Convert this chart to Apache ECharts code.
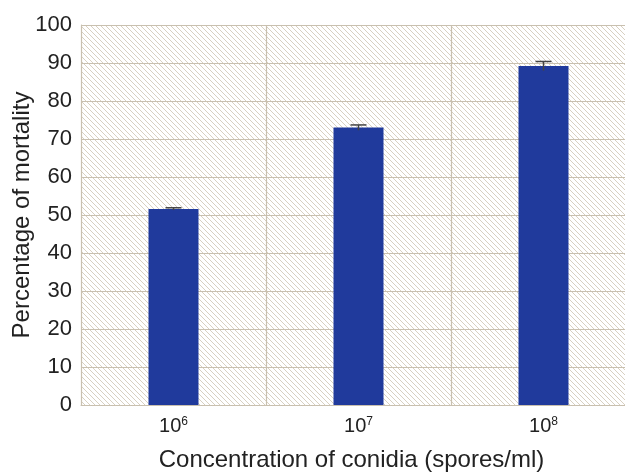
<!DOCTYPE html>
<html><head><meta charset="utf-8">
<script src="https://cdn.jsdelivr.net/npm/echarts@6/dist/echarts.min.js"></script>
<style>html,body{margin:0;padding:0;background:#fff}#c{width:625px;height:473px}</style>
</head><body><div id="c"></div>
<script>
var categories = ['6', '7', '8'];
var mortality = [51.6, 73.0, 89.2];
var errors = [0.3, 0.7, 1.2];
var yTicks = [0, 10, 20, 30, 40, 50, 60, 70, 80, 90, 100];

var pc = document.createElement('canvas');
pc.width = 5; pc.height = 5;
var ctx = pc.getContext('2d');
ctx.fillStyle = '#ffffff'; ctx.fillRect(0,0,5,5);
ctx.strokeStyle = '#d8d0c1'; ctx.lineWidth = 1;
ctx.beginPath();
ctx.moveTo(-1,-1); ctx.lineTo(6,6);
ctx.moveTo(-1,4); ctx.lineTo(1,6);
ctx.moveTo(4,-1); ctx.lineTo(6,1);
ctx.stroke();

var chart = echarts.init(document.getElementById('c'));
chart.setOption({
  animation: false,
  grid: {left: 81, top: 25, width: 555, height: 380, show: true, outerBoundsMode: 'none', containLabel: false,
    backgroundColor: {image: pc, repeat: 'repeat'}, borderWidth: 0},
  xAxis: {
    type: 'category', data: categories,
    name: 'Concentration of conidia (spores/ml)', nameLocation: 'middle', nameGap: 43, nameMoveOverlap: false,
    nameTextStyle: {fontFamily: 'Liberation Sans', fontSize: 24, color: '#222', padding: [0, 14, 0, 0]},
    axisLine: {show: true, lineStyle: {color: '#c9c0af', width: 1}},
    axisTick: {show: false},
    splitLine: {show: true, lineStyle: {color: '#c9c0af', width: 1.2}},
    axisLabel: {margin: 11, formatter: function (v) { return '{b|10}{s|' + v + '}'; },
      rich: {b: {fontFamily: 'Liberation Sans', fontSize: 20, color: '#222'},
             s: {fontFamily: 'Liberation Sans', fontSize: 12, color: '#222', verticalAlign: 'top', padding: [0,0,8,0]}}}
  },
  yAxis: {
    type: 'value', min: 0, max: 100, interval: 10,
    name: 'Percentage of mortality', nameLocation: 'middle', nameGap: 47, nameMoveOverlap: false,
    nameTextStyle: {fontFamily: 'Liberation Sans', fontSize: 24, color: '#222'},
    axisLine: {show: true, lineStyle: {color: '#c9c0af', width: 1}},
    axisTick: {show: false},
    splitLine: {show: true, lineStyle: {color: '#c9c0af', width: 1.2}},
    axisLabel: {margin: 9, fontFamily: 'Liberation Sans', fontSize: 22, color: '#222',
      formatter: function (v) { return yTicks.indexOf(v) >= 0 ? String(v) : ''; }}
  },
  series: [{
    type: 'bar', data: mortality, barWidth: 50,
    itemStyle: {color: '#203a9c'}
  }, {
    type: 'custom',
    data: mortality.map(function (v, i) { return [i, v - errors[i], v + errors[i]]; }),
    renderItem: function (params, api) {
      var x = api.value(0);
      var lo = api.coord([x, api.value(1)]);
      var hi = api.coord([x, api.value(2)]);
      var w = 8;
      return {type: 'group', children: [
        {type: 'line', shape: {x1: hi[0], y1: hi[1], x2: lo[0], y2: lo[1]}, style: {stroke: '#444', lineWidth: 1.5}},
        {type: 'line', shape: {x1: hi[0]-w, y1: hi[1], x2: hi[0]+w, y2: hi[1]}, style: {stroke: '#444', lineWidth: 1.5}}
      ]};
    },
    z: 10
  }]
});
</script></body></html>
